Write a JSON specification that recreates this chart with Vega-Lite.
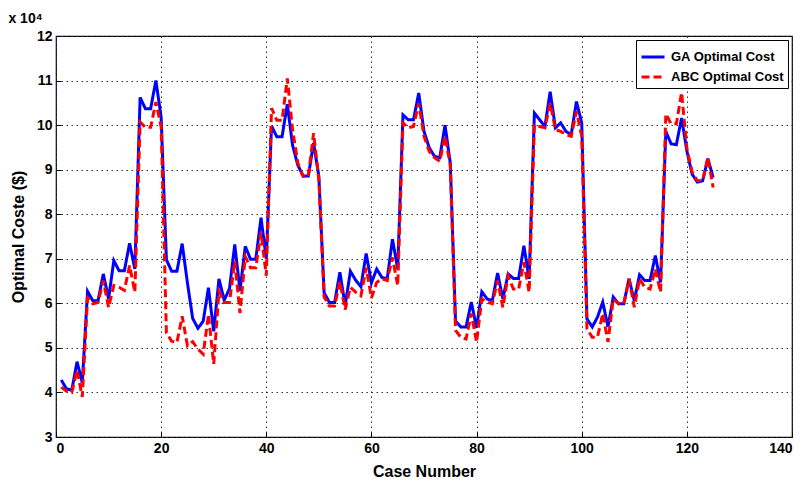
{
  "$schema": "https://vega.github.io/schema/vega-lite/v6.json",
  "width": 736,
  "height": 401,
  "autosize": {"type": "none"},
  "padding": {"left": 56, "top": 36, "right": 11, "bottom": 46},
  "background": "white",
  "title": {"text": "x 10⁴", "anchor": "start", "fontSize": 14, "font": "Liberation Sans Narrow, Liberation Sans", "fontWeight": "bold", "offset": 3, "dx": -2, "color": "black"},
  "config": {
    "view": {"stroke": "black", "strokeWidth": 1.2},
    "axis": {
      "labelFont": "Liberation Sans Narrow, Liberation Sans",
      "labelFontWeight": "bold",
      "labelFontSize": 14,
      "labelColor": "black",
      "titleFont": "Liberation Sans",
      "titleFontWeight": "bold",
      "titleFontSize": 16,
      "titleColor": "black",
      "domain": false,
      "tickColor": "black",
      "tickSize": -5,
      "grid": true,
      "gridColor": "#333333",
      "gridDash": [1.5, 3.5],
      "gridWidth": 1
    }
  },
  "data": {"values": [
    {"c":1,"GA":42800,"ABC":41200},{"c":2,"GA":40800,"ABC":40300},{"c":3,"GA":40500,"ABC":40000},{"c":4,"GA":46900,"ABC":45000},{"c":5,"GA":42200,"ABC":39000},
    {"c":6,"GA":62700,"ABC":61200},{"c":7,"GA":60600,"ABC":59900},{"c":8,"GA":60600,"ABC":60200},{"c":9,"GA":66600,"ABC":65100},{"c":10,"GA":61000,"ABC":59100},
    {"c":11,"GA":69600,"ABC":64000},{"c":12,"GA":67300,"ABC":63600},{"c":13,"GA":67300,"ABC":62900},{"c":14,"GA":73500,"ABC":68500},{"c":15,"GA":67700,"ABC":62500},
    {"c":16,"GA":106200,"ABC":100700},{"c":17,"GA":103700,"ABC":99500},{"c":18,"GA":103700,"ABC":99500},{"c":19,"GA":110000,"ABC":105200},{"c":20,"GA":101800,"ABC":99600},
    {"c":21,"GA":69800,"ABC":53400},{"c":22,"GA":67200,"ABC":51500},{"c":23,"GA":67200,"ABC":51200},{"c":24,"GA":73400,"ABC":57100},{"c":25,"GA":64600,"ABC":50500},
    {"c":26,"GA":56600,"ABC":51400},{"c":27,"GA":54400,"ABC":49700},{"c":28,"GA":56000,"ABC":48600},{"c":29,"GA":63500,"ABC":57500},{"c":30,"GA":53700,"ABC":46400},
    {"c":31,"GA":65500,"ABC":62700},{"c":32,"GA":60700,"ABC":60200},{"c":33,"GA":63300,"ABC":60200},{"c":34,"GA":73200,"ABC":69500},{"c":35,"GA":62800,"ABC":57800},
    {"c":36,"GA":72800,"ABC":70500},{"c":37,"GA":69900,"ABC":68000},{"c":38,"GA":69900,"ABC":68000},{"c":39,"GA":79200,"ABC":75900},{"c":40,"GA":70000,"ABC":66200},
    {"c":41,"GA":99800,"ABC":103800},{"c":42,"GA":97400,"ABC":101100},{"c":43,"GA":97400,"ABC":101100},{"c":44,"GA":104700,"ABC":110500},{"c":45,"GA":95500,"ABC":99000},
    {"c":46,"GA":91000,"ABC":91500},{"c":47,"GA":88600,"ABC":88500},{"c":48,"GA":88600,"ABC":88500},{"c":49,"GA":96000,"ABC":98200},{"c":50,"GA":88500,"ABC":87800},
    {"c":51,"GA":62400,"ABC":61400},{"c":52,"GA":60200,"ABC":59400},{"c":53,"GA":60200,"ABC":59400},{"c":54,"GA":67000,"ABC":64900},{"c":55,"GA":59500,"ABC":58600},
    {"c":56,"GA":67200,"ABC":63600},{"c":57,"GA":65200,"ABC":62500},{"c":58,"GA":63700,"ABC":61700},{"c":59,"GA":71200,"ABC":68000},{"c":60,"GA":64600,"ABC":61200},
    {"c":61,"GA":67700,"ABC":64700},{"c":62,"GA":65800,"ABC":65500},{"c":63,"GA":65500,"ABC":65100},{"c":64,"GA":74400,"ABC":70300},{"c":65,"GA":67700,"ABC":64000},
    {"c":66,"GA":102300,"ABC":100500},{"c":67,"GA":101200,"ABC":99400},{"c":68,"GA":101200,"ABC":99700},{"c":69,"GA":107200,"ABC":104900},{"c":70,"GA":98600,"ABC":97500},
    {"c":71,"GA":94900,"ABC":94100},{"c":72,"GA":93000,"ABC":92700},{"c":73,"GA":92700,"ABC":91900},{"c":74,"GA":100000,"ABC":97500},{"c":75,"GA":91500,"ABC":91000},
    {"c":76,"GA":56000,"ABC":53900},{"c":77,"GA":54700,"ABC":52400},{"c":78,"GA":54700,"ABC":52000},{"c":79,"GA":60300,"ABC":57700},{"c":80,"GA":54500,"ABC":51300},
    {"c":81,"GA":62600,"ABC":61000},{"c":82,"GA":61000,"ABC":60300},{"c":83,"GA":60600,"ABC":59900},{"c":84,"GA":66800,"ABC":65100},{"c":85,"GA":61000,"ABC":59100},
    {"c":86,"GA":66600,"ABC":66200},{"c":87,"GA":65600,"ABC":63200},{"c":88,"GA":65600,"ABC":63200},{"c":89,"GA":72900,"ABC":69200},{"c":90,"GA":65500,"ABC":62500},
    {"c":91,"GA":102700,"ABC":100000},{"c":92,"GA":101200,"ABC":99700},{"c":93,"GA":99700,"ABC":99400},{"c":94,"GA":107500,"ABC":104900},{"c":95,"GA":99400,"ABC":99000},
    {"c":96,"GA":100500,"ABC":98600},{"c":97,"GA":98600,"ABC":97900},{"c":98,"GA":97900,"ABC":97500},{"c":99,"GA":105300,"ABC":103100},{"c":100,"GA":100500,"ABC":97500},
    {"c":101,"GA":56500,"ABC":54300},{"c":102,"GA":54700,"ABC":52400},{"c":103,"GA":56900,"ABC":52400},{"c":104,"GA":60300,"ABC":57700},{"c":105,"GA":54700,"ABC":51300},
    {"c":106,"GA":61400,"ABC":61000},{"c":107,"GA":59900,"ABC":59900},{"c":108,"GA":59900,"ABC":59900},{"c":109,"GA":65500,"ABC":65500},{"c":110,"GA":60600,"ABC":59100},
    {"c":111,"GA":66400,"ABC":65500},{"c":112,"GA":65100,"ABC":63600},{"c":113,"GA":65100,"ABC":63200},{"c":114,"GA":70700,"ABC":67700},{"c":115,"GA":64700,"ABC":62500},
    {"c":116,"GA":98600,"ABC":102500},{"c":117,"GA":95800,"ABC":100300},{"c":118,"GA":95600,"ABC":100300},{"c":119,"GA":101600,"ABC":107300},{"c":120,"GA":94200,"ABC":94800},
    {"c":121,"GA":89000,"ABC":89500},{"c":122,"GA":87200,"ABC":87500},{"c":123,"GA":87500,"ABC":87500},{"c":124,"GA":92500,"ABC":92800},{"c":125,"GA":88200,"ABC":86000}
  ]},
  "transform": [{"fold": ["GA", "ABC"], "as": ["series", "cost"]}],
  "mark": {"type": "line", "strokeWidth": 3, "clip": true},
  "encoding": {
    "x": {
      "field": "c", "type": "quantitative",
      "scale": {"domain": [0, 140], "nice": false, "zero": false},
      "axis": {"title": "Case Number", "values": [0, 20, 40, 60, 80, 100, 120, 140], "labelPadding": 9, "titlePadding": 8}
    },
    "y": {
      "field": "cost", "type": "quantitative",
      "scale": {"domain": [30000, 120000], "nice": false, "zero": false},
      "axis": {"title": "Optimal Coste ($)", "values": [30000, 40000, 50000, 60000, 70000, 80000, 90000, 100000, 110000, 120000], "labelExpr": "datum.value / 10000", "labelPadding": 9, "titlePadding": 10}
    },
    "color": {
      "field": "series", "type": "nominal",
      "scale": {"domain": ["GA", "ABC"], "range": ["#0000FF", "#FF0000"]},
      "legend": {
        "title": null, "orient": "top-right", "offset": 4,
        "labelExpr": "datum.label + ' Optimal Cost'",
        "labelFont": "Liberation Sans", "labelFontWeight": "bold", "labelFontSize": 13, "labelColor": "black",
        "labelOffset": 5,
        "symbolType": "stroke", "symbolSize": 529, "symbolStrokeWidth": 3,
        "strokeColor": "black", "fillColor": "white", "padding": 4, "rowPadding": -3,
        "cornerRadius": 0
      }
    },
    "strokeDash": {
      "field": "series", "type": "nominal",
      "scale": {"domain": ["GA", "ABC"], "range": [[1, 0], [8, 4]]},
      "legend": null
    },
    "order": {"field": "c", "type": "quantitative"}
  }
}
